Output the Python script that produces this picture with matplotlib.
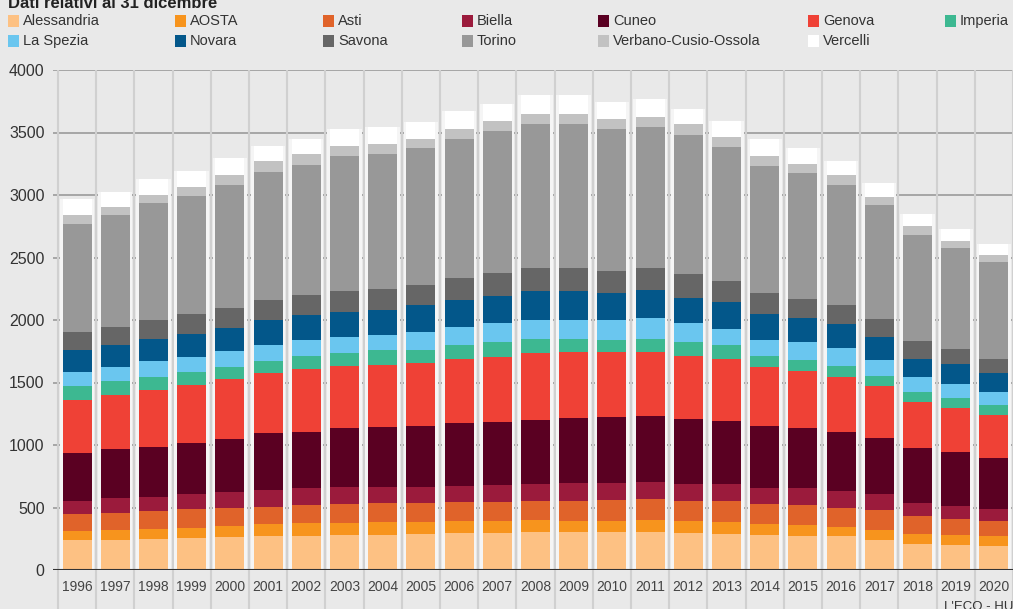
import numpy as np
import matplotlib
matplotlib.use("Agg")
import matplotlib.pyplot as plt
from matplotlib.patches import Rectangle

plt.rcParams['font.family'] = ['Liberation Sans', 'DejaVu Sans']

# Dati relativi al 31 dicembre
anni = [str(a) for a in range(1996, 2021)]
province = ['Alessandria', 'AOSTA', 'Asti', 'Biella', 'Cuneo', 'Genova', 'Imperia',
            'La Spezia', 'Novara', 'Savona', 'Torino', 'Verbano-Cusio-Ossola', 'Vercelli']

alessandria = [243, 243, 249, 257, 262, 270, 270, 284, 284, 289, 297, 297, 303, 303, 303, 303, 297, 292, 284, 276, 270, 243, 211, 203, 189]
aosta = [73, 81, 81, 81, 89, 95, 103, 94, 102, 97, 95, 95, 94, 89, 89, 97, 95, 94, 81, 81, 73, 81, 81, 81, 81]
asti = [130, 136, 143, 149, 149, 143, 146, 149, 149, 149, 149, 149, 157, 162, 167, 168, 162, 168, 162, 162, 157, 157, 140, 127, 122]
biella = [108, 113, 108, 121, 122, 135, 135, 135, 127, 127, 129, 140, 135, 143, 138, 135, 135, 135, 127, 135, 135, 127, 103, 103, 95]
cuneo = [384, 392, 406, 411, 427, 452, 454, 473, 481, 487, 506, 503, 514, 519, 525, 527, 522, 500, 495, 481, 473, 451, 438, 427, 410]
genova = [419, 432, 451, 459, 478, 478, 500, 500, 498, 505, 513, 524, 532, 527, 521, 513, 505, 500, 473, 460, 438, 414, 373, 356, 346]
imperia = [116, 117, 103, 103, 95, 103, 108, 100, 116, 103, 108, 116, 116, 108, 100, 108, 108, 108, 94, 86, 89, 81, 81, 81, 76]
la_spezia = [108, 113, 129, 122, 130, 127, 122, 130, 122, 149, 149, 149, 149, 149, 157, 163, 149, 135, 127, 143, 144, 127, 114, 114, 108]
novara = [181, 176, 182, 184, 181, 197, 203, 203, 202, 216, 216, 216, 230, 230, 216, 229, 203, 209, 206, 190, 189, 184, 148, 157, 146]
savona = [144, 143, 148, 162, 162, 162, 162, 167, 171, 162, 176, 184, 189, 184, 176, 171, 189, 175, 167, 156, 154, 140, 143, 121, 116]
torino = [865, 892, 933, 943, 986, 1019, 1035, 1076, 1078, 1089, 1108, 1141, 1149, 1154, 1135, 1127, 1116, 1068, 1014, 1006, 959, 914, 849, 803, 776]
vco = [67, 68, 67, 76, 81, 90, 87, 81, 81, 73, 81, 81, 81, 81, 81, 86, 87, 81, 81, 73, 76, 68, 68, 62, 54]
vercelli = [127, 121, 130, 127, 136, 121, 121, 135, 130, 135, 149, 135, 149, 149, 135, 143, 121, 130, 135, 130, 119, 108, 103, 95, 89]

serie = [alessandria, aosta, asti, biella, cuneo, genova, imperia,
         la_spezia, novara, savona, torino, vco, vercelli]
colori = ['#fdc183', '#f7941d', '#e0632a', '#9b1b3c', '#5a0022', '#ef4136', '#3db891',
          '#6ac6ef', '#03578a', '#666666', '#989898', '#c2c2c2', '#ffffff']

bg = '#e9e9e9'
fig = plt.figure(figsize=(10.13, 6.09), dpi=100, facecolor=bg)
W, H = 1013, 609
ax = fig.add_axes([53 / W, (H - 570) / H, (W - 53) / W, 500 / H])
ax.set_facecolor(bg)

x = np.arange(len(anni))
totale = np.sum(np.array(serie), axis=0)

# griglia
for g in range(500, 4001, 500):
    ax.axhline(g, color='#9a9a9a', lw=1.2, zorder=0)
for xv in np.arange(-0.5, len(anni), 1.0):
    ax.axvline(xv, color='#d0d0d0', lw=1.5, zorder=0)

# alone chiaro dietro le barre
ax.bar(x, totale, width=0.9, color='#f5f5f5', linewidth=0, zorder=1)

bottom = np.zeros(len(anni))
for nome, vals, col in zip(province, serie, colori):
    ax.bar(x, vals, width=0.76, bottom=bottom, color=col, linewidth=0,
           zorder=2, label=nome)
    bottom += np.array(vals)

ax.axhline(0, color='#333333', lw=1.5, zorder=3)

ax.set_xlim(-0.63, 24.45)
ax.set_ylim(0, 4000)
ax.set_yticks(range(0, 4001, 500))
ax.set_yticklabels([str(v) for v in range(0, 4001, 500)], fontsize=11.5, color='#333333')
ax.set_xticks(x)
ax.set_xticklabels(anni, fontsize=10, color='#444444')
ax.tick_params(axis='y', length=0, pad=6)
ax.tick_params(axis='x', length=0, pad=7)
ax.set_xticks(np.arange(-0.5, len(anni), 1.0), minor=True)
ax.tick_params(axis='x', which='minor', length=30, color='#d0d0d0', width=1.5)
for s in ax.spines.values():
    s.set_visible(False)

# legenda manuale
col_x = [8, 175, 323, 462, 598, 808, 945]
row_y = [21, 41]
for i, (nome, col) in enumerate(zip(province, colori)):
    r, c = divmod(i, 7)
    px, py = col_x[c], row_y[r]
    fig.patches.append(Rectangle((px / W, 1 - (py + 6) / H), 11 / W, 12 / H,
                                 transform=fig.transFigure, facecolor=col,
                                 edgecolor='none'))
    fig.text((px + 15) / W, 1 - py / H, nome, fontsize=10.5, color='#333333',
             va='center', ha='left')

fig.text(8 / W, 1 - 3 / H, 'Dati relativi al 31 dicembre', fontsize=12,
         fontweight='bold', color='#222222', va='center', ha='left')
fig.text(944 / W, 1 - 601 / H, "L'ECO - HUB", fontsize=9.5, color='#333333',
         va='top', ha='left')

fig.savefig('out.png', dpi=100, facecolor=bg)
